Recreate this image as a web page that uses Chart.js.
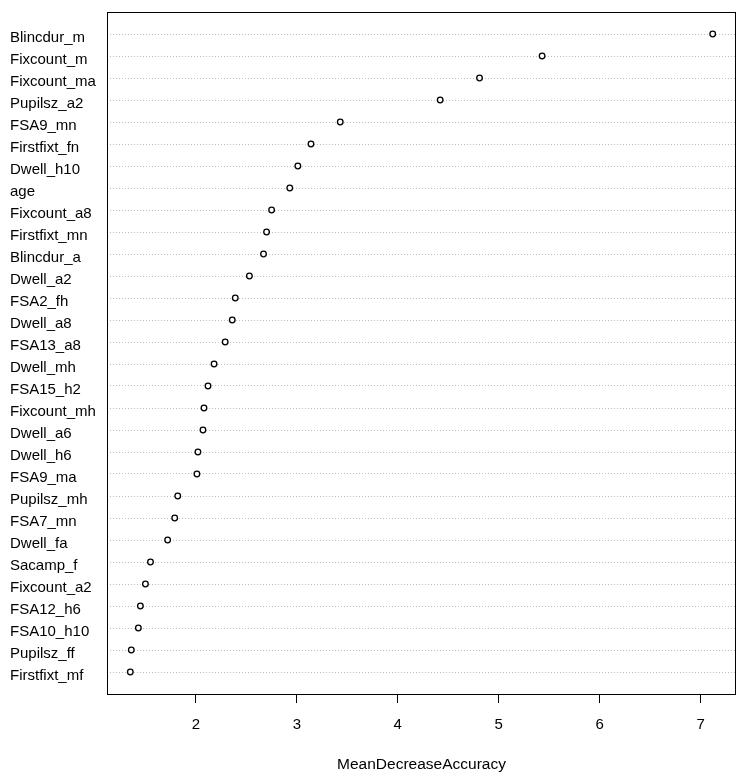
<!DOCTYPE html>
<html>
<head>
<meta charset="utf-8">
<script src="https://cdn.jsdelivr.net/npm/chart.js@4.4.1/dist/chart.umd.min.js"></script>
<style>
  html, body { margin: 0; padding: 0; background: #fff; }
  #chart { display: block; }
</style>
</head>
<body>
<canvas id="chart" width="744" height="778"></canvas>
<script>
// variable names, top row first
const variables = [
  'Blincdur_m', 'Fixcount_m', 'Fixcount_ma', 'Pupilsz_a2', 'FSA9_mn',
  'Firstfixt_fn', 'Dwell_h10', 'age', 'Fixcount_a8', 'Firstfixt_mn',
  'Blincdur_a', 'Dwell_a2', 'FSA2_fh', 'Dwell_a8', 'FSA13_a8',
  'Dwell_mh', 'FSA15_h2', 'Fixcount_mh', 'Dwell_a6', 'Dwell_h6',
  'FSA9_ma', 'Pupilsz_mh', 'FSA7_mn', 'Dwell_fa', 'Sacamp_f',
  'Fixcount_a2', 'FSA12_h6', 'FSA10_h10', 'Pupilsz_ff', 'Firstfixt_mf'
];
// MeanDecreaseAccuracy, same order
const meanDecreaseAccuracy = [
  7.12, 5.43, 4.81, 4.42, 3.43,
  3.14, 3.01, 2.93, 2.75, 2.70,
  2.67, 2.53, 2.39, 2.36, 2.29,
  2.18, 2.12, 2.08, 2.07, 2.02,
  2.01, 1.82, 1.79, 1.72, 1.55,
  1.50, 1.45, 1.43, 1.36, 1.35
];
const xTicks = [2, 3, 4, 5, 6, 7];
const xTitle = 'MeanDecreaseAccuracy';

const FONT = "'Liberation Sans', Arial, Helvetica, sans-serif";

// R style axis range: data range plus 4% each side
const lo = Math.min(...meanDecreaseAccuracy);
const hi = Math.max(...meanDecreaseAccuracy);
const pad = (hi - lo) * 0.04;

const points = meanDecreaseAccuracy.map((v, i) => ({ x: v, y: i + 1 }));

// plain black frame round the plot region
const boxPlugin = {
  id: 'box',
  afterDatasetsDraw(chart) {
    const { ctx, chartArea: a } = chart;
    ctx.save();
    ctx.strokeStyle = '#000';
    ctx.lineWidth = 1;
    ctx.strokeRect(a.left + 0.5, a.top + 0.5, a.right - a.left - 1, a.bottom - a.top);
    ctx.restore();
  }
};

new Chart(document.getElementById('chart'), {
  type: 'scatter',
  data: {
    datasets: [{
      data: points,
      pointStyle: 'circle',
      pointRadius: 2.8,
      pointBorderWidth: 1.3,
      pointBorderColor: '#000',
      pointBackgroundColor: '#fff'
    }]
  },
  options: {
    responsive: false,
    animation: false,
    devicePixelRatio: 1,
    layout: { padding: { left: 10, top: 12, right: 8, bottom: 0 } },
    plugins: {
      legend: { display: false },
      tooltip: { enabled: false }
    },
    scales: {
      x: {
        type: 'linear',
        position: 'bottom',
        min: lo - pad,
        max: hi + pad,
        afterBuildTicks: (scale) => { scale.ticks = xTicks.map(v => ({ value: v })); },
        afterFit: (scale) => { scale.height = 84; },
        grid: { drawOnChartArea: false, drawTicks: true, tickLength: 9, color: '#000', lineWidth: 1 },
        border: { display: false },
        ticks: {
          padding: 13,
          color: '#000',
          font: { family: FONT, size: 15 },
          maxRotation: 0,
          autoSkip: false
        },
        title: {
          display: true,
          text: xTitle,
          color: '#000',
          font: { family: FONT, size: 15.5 },
          padding: { top: 4, bottom: 4 }
        }
      },
      y: {
        type: 'linear',
        reverse: true,
        min: 0,
        max: variables.length + 1,
        afterBuildTicks: (scale) => { scale.ticks = variables.map((_, i) => ({ value: i + 1 })); },
        afterFit: (scale) => { scale.width = 97; },
        grid: { color: '#bebebe', lineWidth: 1, drawTicks: false, tickLength: 0 },
        border: { display: false, dash: [1, 2] },
        ticks: {
          crossAlign: 'far',
          labelOffset: 4,
          color: '#000',
          font: { family: FONT, size: 15 },
          autoSkip: false,
          callback: (v) => variables[v - 1] || ''
        }
      }
    }
  },
  plugins: [boxPlugin]
});
</script>
</body>
</html>
